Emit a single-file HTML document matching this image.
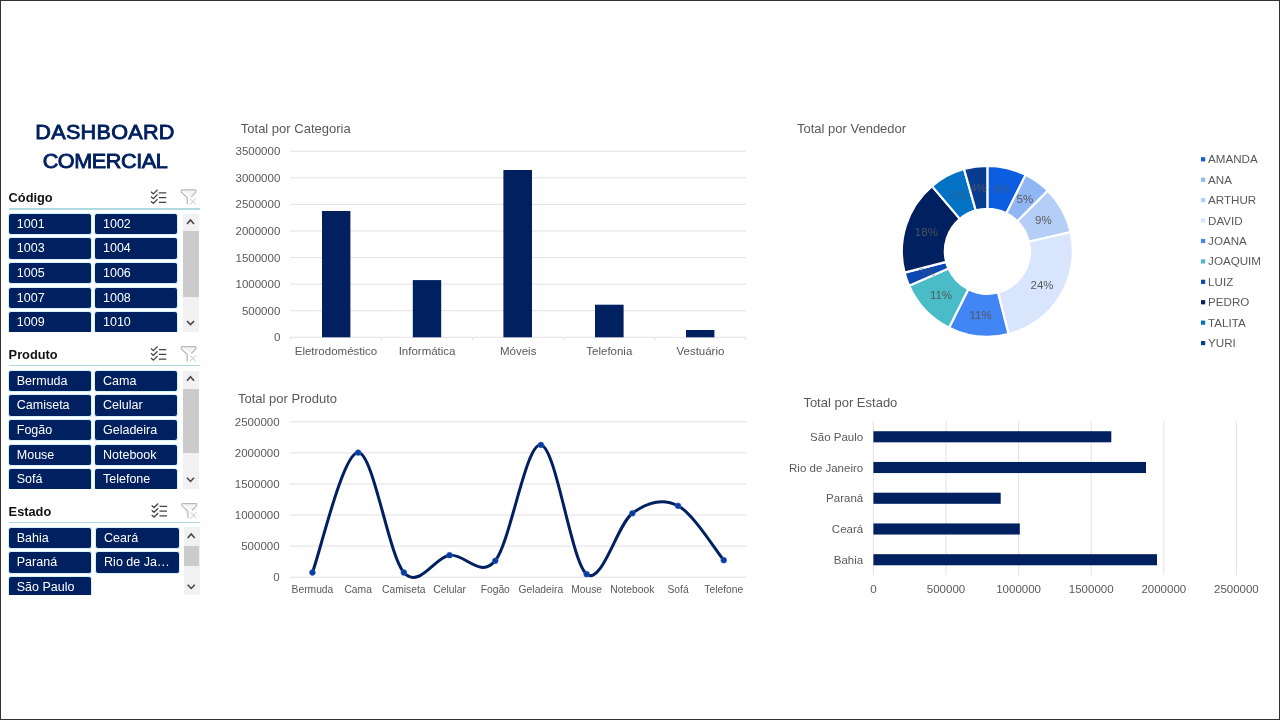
<!DOCTYPE html>
<html lang="pt-BR"><head><meta charset="utf-8"><title>Dashboard Comercial</title>
<style>

html,body{margin:0;padding:0;background:#fff;}
body{width:1280px;height:720px;position:relative;overflow:hidden;font-family:"Liberation Sans",sans-serif;}
#frame{position:absolute;left:0;top:0;width:1278px;height:718px;border:1px solid #333;z-index:10;pointer-events:none;}
.abs{position:absolute;}
.title{position:absolute;left:0;width:210px;text-align:center;color:#002060;font-weight:normal;-webkit-text-stroke:0.85px #002060;font-size:20.6px;line-height:22px;transform-origin:105px 0;white-space:nowrap;}
.sl-h{position:absolute;left:8.6px;font-weight:bold;font-size:12.8px;color:#111;line-height:14px;white-space:nowrap;}
.sl-u{position:absolute;left:9px;width:190.5px;height:1.5px;background:#AEDBE2;}
.btn{position:absolute;height:20.4px;border:1px solid #D0F3FC;border-radius:3px;background:#002060;color:#fff;font-size:12.5px;line-height:21.0px;white-space:nowrap;overflow:hidden;box-sizing:content-box;}
.btn i{font-style:normal;letter-spacing:0.7px;margin-left:0.5px}
.btn span{position:absolute;left:7.9px;top:0;}
.sb{position:absolute;left:182.8px;width:16.4px;background:#F1F1F1;}
.th{position:absolute;left:183px;width:15.8px;background:#CBCBCB;}
svg{position:absolute;left:0;top:0;will-change:transform;}
#ui{position:absolute;left:0;top:0;width:1280px;height:720px;will-change:transform;}
svg text{font-family:"Liberation Sans",sans-serif;}

</style></head><body>
<div id="ui">
<div class="title" style="top:121.2px;letter-spacing:0.25px;transform:scaleX(1.05)">DASHBOARD</div>
<div class="title" style="top:150.4px;letter-spacing:-0.42px;transform:scaleX(1.05)">COMERCIAL</div>
<div class="sl-h" style="top:191.1px">Código</div>
<div class="sl-u" style="top:208.15px;width:190.5px"></div>
<div class="abs" style="left:0;top:212.8px;width:182px;height:119.0px;overflow:hidden">
<div class="btn" style="left:7.9px;top:0.00px;width:82.2px"><span>1001</span></div>
<div class="btn" style="left:94.1px;top:0.00px;width:82.2px"><span>1002</span></div>
<div class="btn" style="left:7.9px;top:24.65px;width:82.2px"><span>1003</span></div>
<div class="btn" style="left:94.1px;top:24.65px;width:82.2px"><span>1004</span></div>
<div class="btn" style="left:7.9px;top:49.30px;width:82.2px"><span>1005</span></div>
<div class="btn" style="left:94.1px;top:49.30px;width:82.2px"><span>1006</span></div>
<div class="btn" style="left:7.9px;top:73.95px;width:82.2px"><span>1007</span></div>
<div class="btn" style="left:94.1px;top:73.95px;width:82.2px"><span>1008</span></div>
<div class="btn" style="left:7.9px;top:98.60px;width:82.2px"><span>1009</span></div>
<div class="btn" style="left:94.1px;top:98.60px;width:82.2px"><span>1010</span></div>
</div>
<div class="sb" style="left:182.8px;top:213.7px;height:118.1px"></div>
<div class="th" style="left:183.0px;top:231.0px;height:65.7px"></div>
<div class="sl-h" style="top:347.9px">Produto</div>
<div class="sl-u" style="top:364.95px;width:190.5px"></div>
<div class="abs" style="left:0;top:369.6px;width:182px;height:119.3px;overflow:hidden">
<div class="btn" style="left:7.9px;top:0.00px;width:82.2px"><span>Bermuda</span></div>
<div class="btn" style="left:94.1px;top:0.00px;width:82.2px"><span>Cama</span></div>
<div class="btn" style="left:7.9px;top:24.65px;width:82.2px"><span>Camiseta</span></div>
<div class="btn" style="left:94.1px;top:24.65px;width:82.2px"><span>Celular</span></div>
<div class="btn" style="left:7.9px;top:49.30px;width:82.2px"><span>Fogão</span></div>
<div class="btn" style="left:94.1px;top:49.30px;width:82.2px"><span>Geladeira</span></div>
<div class="btn" style="left:7.9px;top:73.95px;width:82.2px"><span>Mouse</span></div>
<div class="btn" style="left:94.1px;top:73.95px;width:82.2px"><span>Notebook</span></div>
<div class="btn" style="left:7.9px;top:98.60px;width:82.2px"><span>Sofá</span></div>
<div class="btn" style="left:94.1px;top:98.60px;width:82.2px"><span>Telefone</span></div>
</div>
<div class="sb" style="left:182.8px;top:370.5px;height:118.4px"></div>
<div class="th" style="left:183.0px;top:388.5px;height:64.9px"></div>
<div class="sl-h" style="top:504.8px">Estado</div>
<div class="sl-u" style="top:521.85px;width:191.2px"></div>
<div class="abs" style="left:0;top:526.5px;width:182px;height:68.8px;overflow:hidden">
<div class="btn" style="left:7.9px;top:0.00px;width:82.2px"><span>Bahia</span></div>
<div class="btn" style="left:95.2px;top:0.00px;width:83.0px"><span>Ceará</span></div>
<div class="btn" style="left:7.9px;top:24.65px;width:82.2px"><span>Paraná</span></div>
<div class="btn" style="left:95.2px;top:24.65px;width:83.0px"><span>Rio de Ja<i>...</i></span></div>
<div class="btn" style="left:7.9px;top:49.30px;width:82.2px"><span>São Paulo</span></div>
</div>
<div class="sb" style="left:183.5px;top:527.4px;height:67.9px"></div>
<div class="th" style="left:183.7px;top:545.5px;height:20.3px"></div>
</div>
<svg width="1280" height="720" viewBox="0 0 1280 720">
<g transform="translate(0.0 0)">
<path d="M151 191.75 L153.3 193.85 L157.5 189.75 M158.8 192.75 H166.3 M151 196.50 L153.3 198.60 L157.5 194.50 M158.8 197.50 H166.3 M151 201.25 L153.3 203.35 L157.5 199.25 M158.8 202.25 H166.3" fill="none" stroke="#444" stroke-width="1.25"/>
<path d="M181.3 189.90 H195.8 V192.20 L191.3 196.80 M187.3 204.60 V197.40 L181.3 192.20 V189.90" fill="#F3F3F3" stroke="#B9B9B9" stroke-width="1.2" stroke-linejoin="round"/>
<path d="M189.8 198.60 L195.9 204.60 M195.9 198.60 L189.8 204.60" fill="none" stroke="#C4C4C4" stroke-width="1"/>
</g>
<g transform="translate(0.0 0)">
<path d="M151 348.55 L153.3 350.65 L157.5 346.55 M158.8 349.55 H166.3 M151 353.30 L153.3 355.40 L157.5 351.30 M158.8 354.30 H166.3 M151 358.05 L153.3 360.15 L157.5 356.05 M158.8 359.05 H166.3" fill="none" stroke="#444" stroke-width="1.25"/>
<path d="M181.3 346.70 H195.8 V349.00 L191.3 353.60 M187.3 361.40 V354.20 L181.3 349.00 V346.70" fill="#F3F3F3" stroke="#B9B9B9" stroke-width="1.2" stroke-linejoin="round"/>
<path d="M189.8 355.40 L195.9 361.40 M195.9 355.40 L189.8 361.40" fill="none" stroke="#C4C4C4" stroke-width="1"/>
</g>
<g transform="translate(0.7 0)">
<path d="M151 505.45 L153.3 507.55 L157.5 503.45 M158.8 506.45 H166.3 M151 510.20 L153.3 512.30 L157.5 508.20 M158.8 511.20 H166.3 M151 514.95 L153.3 517.05 L157.5 512.95 M158.8 515.95 H166.3" fill="none" stroke="#444" stroke-width="1.25"/>
<path d="M181.3 503.60 H195.8 V505.90 L191.3 510.50 M187.3 518.30 V511.10 L181.3 505.90 V503.60" fill="#F3F3F3" stroke="#B9B9B9" stroke-width="1.2" stroke-linejoin="round"/>
<path d="M189.8 512.30 L195.9 518.30 M195.9 512.30 L189.8 518.30" fill="none" stroke="#C4C4C4" stroke-width="1"/>
</g>
<path d="M187.0 224.00 L190.5 219.90 L194.0 224.00" fill="none" stroke="#444" stroke-width="1.5"/>
<path d="M186.95 320.90 L190.5 324.60 L194.05 320.90" fill="none" stroke="#444" stroke-width="1.5"/>
<path d="M187.0 380.80 L190.5 376.70 L194.0 380.80" fill="none" stroke="#444" stroke-width="1.5"/>
<path d="M186.95 477.70 L190.5 481.40 L194.05 477.70" fill="none" stroke="#444" stroke-width="1.5"/>
<path d="M187.7 538.10 L191.2 534.00 L194.7 538.10" fill="none" stroke="#444" stroke-width="1.5"/>
<path d="M187.64999999999998 584.80 L191.2 588.50 L194.75 584.80" fill="none" stroke="#444" stroke-width="1.5"/>
<text x="240.8" y="133.4" font-size="13" fill="#595959">Total por Categoria</text>
<line x1="290.4" x2="746.0" y1="151.20" y2="151.20" stroke="#E1E1E4" stroke-width="1"/>
<text x="280.3" y="155.30" font-size="11.5" fill="#595959" text-anchor="end">3500000</text>
<line x1="290.4" x2="746.0" y1="177.79" y2="177.79" stroke="#E1E1E4" stroke-width="1"/>
<text x="280.3" y="181.89" font-size="11.5" fill="#595959" text-anchor="end">3000000</text>
<line x1="290.4" x2="746.0" y1="204.37" y2="204.37" stroke="#E1E1E4" stroke-width="1"/>
<text x="280.3" y="208.47" font-size="11.5" fill="#595959" text-anchor="end">2500000</text>
<line x1="290.4" x2="746.0" y1="230.96" y2="230.96" stroke="#E1E1E4" stroke-width="1"/>
<text x="280.3" y="235.06" font-size="11.5" fill="#595959" text-anchor="end">2000000</text>
<line x1="290.4" x2="746.0" y1="257.54" y2="257.54" stroke="#E1E1E4" stroke-width="1"/>
<text x="280.3" y="261.64" font-size="11.5" fill="#595959" text-anchor="end">1500000</text>
<line x1="290.4" x2="746.0" y1="284.13" y2="284.13" stroke="#E1E1E4" stroke-width="1"/>
<text x="280.3" y="288.23" font-size="11.5" fill="#595959" text-anchor="end">1000000</text>
<line x1="290.4" x2="746.0" y1="310.71" y2="310.71" stroke="#E1E1E4" stroke-width="1"/>
<text x="280.3" y="314.81" font-size="11.5" fill="#595959" text-anchor="end">500000</text>
<line x1="290.4" x2="746.0" y1="337.30" y2="337.30" stroke="#E1E1E4" stroke-width="1"/>
<text x="280.3" y="341.40" font-size="11.5" fill="#595959" text-anchor="end">0</text>
<line x1="290.40" x2="290.40" y1="337.3" y2="340.3" stroke="#E1E1E4" stroke-width="1"/>
<line x1="381.52" x2="381.52" y1="337.3" y2="340.3" stroke="#E1E1E4" stroke-width="1"/>
<line x1="472.64" x2="472.64" y1="337.3" y2="340.3" stroke="#E1E1E4" stroke-width="1"/>
<line x1="563.76" x2="563.76" y1="337.3" y2="340.3" stroke="#E1E1E4" stroke-width="1"/>
<line x1="654.88" x2="654.88" y1="337.3" y2="340.3" stroke="#E1E1E4" stroke-width="1"/>
<line x1="746.00" x2="746.00" y1="337.3" y2="340.3" stroke="#E1E1E4" stroke-width="1"/>
<rect x="322.0" y="211.0" width="28.4" height="126.3" fill="#002060"/>
<text x="335.96" y="354.8" font-size="11.5" fill="#595959" text-anchor="middle">Eletrodoméstico</text>
<rect x="412.8" y="280.1" width="28.4" height="57.2" fill="#002060"/>
<text x="427.08" y="354.8" font-size="11.5" fill="#595959" text-anchor="middle">Informática</text>
<rect x="503.4" y="170.0" width="28.6" height="167.3" fill="#002060"/>
<text x="518.20" y="354.8" font-size="11.5" fill="#595959" text-anchor="middle">Móveis</text>
<rect x="595.0" y="304.7" width="28.6" height="32.6" fill="#002060"/>
<text x="609.32" y="354.8" font-size="11.5" fill="#595959" text-anchor="middle">Telefonia</text>
<rect x="686.0" y="330.0" width="28.4" height="7.3" fill="#002060"/>
<text x="700.44" y="354.8" font-size="11.5" fill="#595959" text-anchor="middle">Vestuário</text>
<text x="797" y="133.4" font-size="13" fill="#595959">Total por Vendedor</text>
<path d="M987.35 165.80 A85.5 85.5 0 0 1 1025.69 174.88 L1006.41 213.31 A42.5 42.5 0 0 0 987.35 208.80 Z" fill="#0C5DDF" stroke="#fff" stroke-width="2.2" stroke-linejoin="round"/>
<path d="M1025.69 174.88 A85.5 85.5 0 0 1 1047.81 190.84 L1017.40 221.25 A42.5 42.5 0 0 0 1006.41 213.31 Z" fill="#90B6F6" stroke="#fff" stroke-width="2.2" stroke-linejoin="round"/>
<path d="M1047.81 190.84 A85.5 85.5 0 0 1 1070.67 232.12 L1028.77 241.77 A42.5 42.5 0 0 0 1017.40 221.25 Z" fill="#B4CEF8" stroke="#fff" stroke-width="2.2" stroke-linejoin="round"/>
<path d="M1070.67 232.12 A85.5 85.5 0 0 1 1008.61 334.11 L997.92 292.46 A42.5 42.5 0 0 0 1028.77 241.77 Z" fill="#D9E5FD" stroke="#fff" stroke-width="2.2" stroke-linejoin="round"/>
<path d="M1008.61 334.11 A85.5 85.5 0 0 1 949.01 327.72 L968.29 289.29 A42.5 42.5 0 0 0 997.92 292.46 Z" fill="#4285F4" stroke="#fff" stroke-width="2.2" stroke-linejoin="round"/>
<path d="M949.01 327.72 A85.5 85.5 0 0 1 909.10 285.75 L948.45 268.42 A42.5 42.5 0 0 0 968.29 289.29 Z" fill="#49BCC8" stroke="#fff" stroke-width="2.2" stroke-linejoin="round"/>
<path d="M909.10 285.75 A85.5 85.5 0 0 1 904.54 272.56 L946.19 261.87 A42.5 42.5 0 0 0 948.45 268.42 Z" fill="#0D47B3" stroke="#fff" stroke-width="2.2" stroke-linejoin="round"/>
<path d="M904.54 272.56 A85.5 85.5 0 0 1 932.03 186.11 L959.85 218.90 A42.5 42.5 0 0 0 946.19 261.87 Z" fill="#002060" stroke="#fff" stroke-width="2.2" stroke-linejoin="round"/>
<path d="M932.03 186.11 A85.5 85.5 0 0 1 964.01 169.05 L975.75 210.41 A42.5 42.5 0 0 0 959.85 218.90 Z" fill="#0371C4" stroke="#fff" stroke-width="2.2" stroke-linejoin="round"/>
<path d="M964.01 169.05 A85.5 85.5 0 0 1 987.35 165.80 L987.35 208.80 A42.5 42.5 0 0 0 975.75 210.41 Z" fill="#093C91" stroke="#fff" stroke-width="2.2" stroke-linejoin="round"/>
<text x="1002.09" y="193.02" font-size="11.5" fill="#595959" fill-opacity="0.55" text-anchor="middle">8%</text>
<text x="1024.81" y="203.40" font-size="11.5" fill="#595959" fill-opacity="1" text-anchor="middle">5%</text>
<text x="1043.34" y="224.29" font-size="11.5" fill="#595959" fill-opacity="1" text-anchor="middle">9%</text>
<text x="1042.02" y="288.57" font-size="11.5" fill="#595959" fill-opacity="1" text-anchor="middle">24%</text>
<text x="980.53" y="318.94" font-size="11.5" fill="#595959" fill-opacity="1" text-anchor="middle">11%</text>
<text x="940.97" y="299.40" font-size="11.5" fill="#595959" fill-opacity="1" text-anchor="middle">11%</text>
<text x="926.87" y="276.22" font-size="11.5" fill="#595959" fill-opacity="0.5" text-anchor="middle">3%</text>
<text x="926.36" y="235.91" font-size="11.5" fill="#595959" fill-opacity="0.85" text-anchor="middle">18%</text>
<text x="957.22" y="198.83" font-size="11.5" fill="#595959" fill-opacity="0.55" text-anchor="middle">7%</text>
<text x="978.53" y="191.91" font-size="11.5" fill="#595959" fill-opacity="0.7" text-anchor="middle">4%</text>
<rect x="1201.0" y="157.20" width="4.2" height="4.2" fill="#0C5DDF"/>
<text x="1208.1" y="163.30" font-size="11.6" fill="#595959">AMANDA</text>
<rect x="1201.0" y="177.62" width="4.2" height="4.2" fill="#90B6F6"/>
<text x="1208.1" y="183.72" font-size="11.6" fill="#595959">ANA</text>
<rect x="1201.0" y="198.04" width="4.2" height="4.2" fill="#B4CEF8"/>
<text x="1208.1" y="204.14" font-size="11.6" fill="#595959">ARTHUR</text>
<rect x="1201.0" y="218.46" width="4.2" height="4.2" fill="#D9E5FD"/>
<text x="1208.1" y="224.56" font-size="11.6" fill="#595959">DAVID</text>
<rect x="1201.0" y="238.88" width="4.2" height="4.2" fill="#4285F4"/>
<text x="1208.1" y="244.98" font-size="11.6" fill="#595959">JOANA</text>
<rect x="1201.0" y="259.30" width="4.2" height="4.2" fill="#49BCC8"/>
<text x="1208.1" y="265.40" font-size="11.6" fill="#595959">JOAQUIM</text>
<rect x="1201.0" y="279.72" width="4.2" height="4.2" fill="#0D47B3"/>
<text x="1208.1" y="285.82" font-size="11.6" fill="#595959">LUIZ</text>
<rect x="1201.0" y="300.14" width="4.2" height="4.2" fill="#002060"/>
<text x="1208.1" y="306.24" font-size="11.6" fill="#595959">PEDRO</text>
<rect x="1201.0" y="320.56" width="4.2" height="4.2" fill="#0371C4"/>
<text x="1208.1" y="326.66" font-size="11.6" fill="#595959">TALITA</text>
<rect x="1201.0" y="340.98" width="4.2" height="4.2" fill="#093C91"/>
<text x="1208.1" y="347.08" font-size="11.6" fill="#595959">YURI</text>
<text x="238" y="403" font-size="13" fill="#595959">Total por Produto</text>
<line x1="289.6" x2="746.6" y1="421.80" y2="421.80" stroke="#E1E1E4" stroke-width="1"/>
<text x="279.6" y="425.90" font-size="11.5" fill="#595959" text-anchor="end">2500000</text>
<line x1="289.6" x2="746.6" y1="452.88" y2="452.88" stroke="#E1E1E4" stroke-width="1"/>
<text x="279.6" y="456.98" font-size="11.5" fill="#595959" text-anchor="end">2000000</text>
<line x1="289.6" x2="746.6" y1="483.96" y2="483.96" stroke="#E1E1E4" stroke-width="1"/>
<text x="279.6" y="488.06" font-size="11.5" fill="#595959" text-anchor="end">1500000</text>
<line x1="289.6" x2="746.6" y1="515.04" y2="515.04" stroke="#E1E1E4" stroke-width="1"/>
<text x="279.6" y="519.14" font-size="11.5" fill="#595959" text-anchor="end">1000000</text>
<line x1="289.6" x2="746.6" y1="546.12" y2="546.12" stroke="#E1E1E4" stroke-width="1"/>
<text x="279.6" y="550.22" font-size="11.5" fill="#595959" text-anchor="end">500000</text>
<line x1="289.6" x2="746.6" y1="577.20" y2="577.20" stroke="#E1E1E4" stroke-width="1"/>
<text x="279.6" y="581.30" font-size="11.5" fill="#595959" text-anchor="end">0</text>
<text x="312.45" y="592.6" font-size="10.3" fill="#595959" text-anchor="middle">Bermuda</text>
<text x="358.15" y="592.6" font-size="10.3" fill="#595959" text-anchor="middle">Cama</text>
<text x="403.85" y="592.6" font-size="10.3" fill="#595959" text-anchor="middle">Camiseta</text>
<text x="449.55" y="592.6" font-size="10.3" fill="#595959" text-anchor="middle">Celular</text>
<text x="495.25" y="592.6" font-size="10.3" fill="#595959" text-anchor="middle">Fogão</text>
<text x="540.95" y="592.6" font-size="10.3" fill="#595959" text-anchor="middle">Geladeira</text>
<text x="586.65" y="592.6" font-size="10.3" fill="#595959" text-anchor="middle">Mouse</text>
<text x="632.35" y="592.6" font-size="10.3" fill="#595959" text-anchor="middle">Notebook</text>
<text x="678.05" y="592.6" font-size="10.3" fill="#595959" text-anchor="middle">Sofá</text>
<text x="723.75" y="592.6" font-size="10.3" fill="#595959" text-anchor="middle">Telefone</text>
<path d="M312.45 572.50 C320.07 552.52 342.92 452.60 358.15 452.60 C373.38 452.60 388.62 555.40 403.85 572.50 C419.08 589.60 434.32 557.15 449.55 555.20 C464.78 553.25 480.02 579.18 495.25 560.80 C510.48 542.42 525.72 442.67 540.95 444.90 C556.18 447.13 571.42 562.80 586.65 574.20 C601.88 585.60 617.12 524.70 632.35 513.30 C647.58 501.90 662.82 497.98 678.05 505.80 C693.28 513.62 716.13 551.13 723.75 560.20" fill="none" stroke="#002060" stroke-width="3.0" stroke-linecap="round" stroke-linejoin="round"/>
<circle cx="312.45" cy="572.50" r="2.9" fill="#0A3A9C" stroke="#2F66CC" stroke-width="0.6"/>
<circle cx="358.15" cy="452.60" r="2.9" fill="#0A3A9C" stroke="#2F66CC" stroke-width="0.6"/>
<circle cx="403.85" cy="572.50" r="2.9" fill="#0A3A9C" stroke="#2F66CC" stroke-width="0.6"/>
<circle cx="449.55" cy="555.20" r="2.9" fill="#0A3A9C" stroke="#2F66CC" stroke-width="0.6"/>
<circle cx="495.25" cy="560.80" r="2.9" fill="#0A3A9C" stroke="#2F66CC" stroke-width="0.6"/>
<circle cx="540.95" cy="444.90" r="2.9" fill="#0A3A9C" stroke="#2F66CC" stroke-width="0.6"/>
<circle cx="586.65" cy="574.20" r="2.9" fill="#0A3A9C" stroke="#2F66CC" stroke-width="0.6"/>
<circle cx="632.35" cy="513.30" r="2.9" fill="#0A3A9C" stroke="#2F66CC" stroke-width="0.6"/>
<circle cx="678.05" cy="505.80" r="2.9" fill="#0A3A9C" stroke="#2F66CC" stroke-width="0.6"/>
<circle cx="723.75" cy="560.20" r="2.9" fill="#0A3A9C" stroke="#2F66CC" stroke-width="0.6"/>
<text x="803.4" y="407.3" font-size="13" fill="#595959">Total por Estado</text>
<line x1="873.40" x2="873.40" y1="421.3" y2="575.0" stroke="#E1E1E4" stroke-width="1"/>
<text x="873.40" y="593" font-size="11.5" fill="#595959" text-anchor="middle">0</text>
<line x1="946.00" x2="946.00" y1="421.3" y2="575.0" stroke="#E1E1E4" stroke-width="1"/>
<text x="946.00" y="593" font-size="11.5" fill="#595959" text-anchor="middle">500000</text>
<line x1="1018.60" x2="1018.60" y1="421.3" y2="575.0" stroke="#E1E1E4" stroke-width="1"/>
<text x="1018.60" y="593" font-size="11.5" fill="#595959" text-anchor="middle">1000000</text>
<line x1="1091.20" x2="1091.20" y1="421.3" y2="575.0" stroke="#E1E1E4" stroke-width="1"/>
<text x="1091.20" y="593" font-size="11.5" fill="#595959" text-anchor="middle">1500000</text>
<line x1="1163.80" x2="1163.80" y1="421.3" y2="575.0" stroke="#E1E1E4" stroke-width="1"/>
<text x="1163.80" y="593" font-size="11.5" fill="#595959" text-anchor="middle">2000000</text>
<line x1="1236.40" x2="1236.40" y1="421.3" y2="575.0" stroke="#E1E1E4" stroke-width="1"/>
<text x="1236.40" y="593" font-size="11.5" fill="#595959" text-anchor="middle">2500000</text>
<rect x="873.4" y="431.22" width="237.9" height="11.1" fill="#002060"/>
<text x="863.2" y="440.77" font-size="11.5" fill="#595959" text-anchor="end">São Paulo</text>
<rect x="873.4" y="461.96" width="272.6" height="11.1" fill="#002060"/>
<text x="863.2" y="471.51" font-size="11.5" fill="#595959" text-anchor="end">Rio de Janeiro</text>
<rect x="873.4" y="492.70" width="127.3" height="11.1" fill="#002060"/>
<text x="863.2" y="502.25" font-size="11.5" fill="#595959" text-anchor="end">Paraná</text>
<rect x="873.4" y="523.44" width="146.4" height="11.1" fill="#002060"/>
<text x="863.2" y="532.99" font-size="11.5" fill="#595959" text-anchor="end">Ceará</text>
<rect x="873.4" y="554.18" width="283.6" height="11.1" fill="#002060"/>
<text x="863.2" y="563.73" font-size="11.5" fill="#595959" text-anchor="end">Bahia</text>
</svg>
<div id="frame"></div>
</body></html>
